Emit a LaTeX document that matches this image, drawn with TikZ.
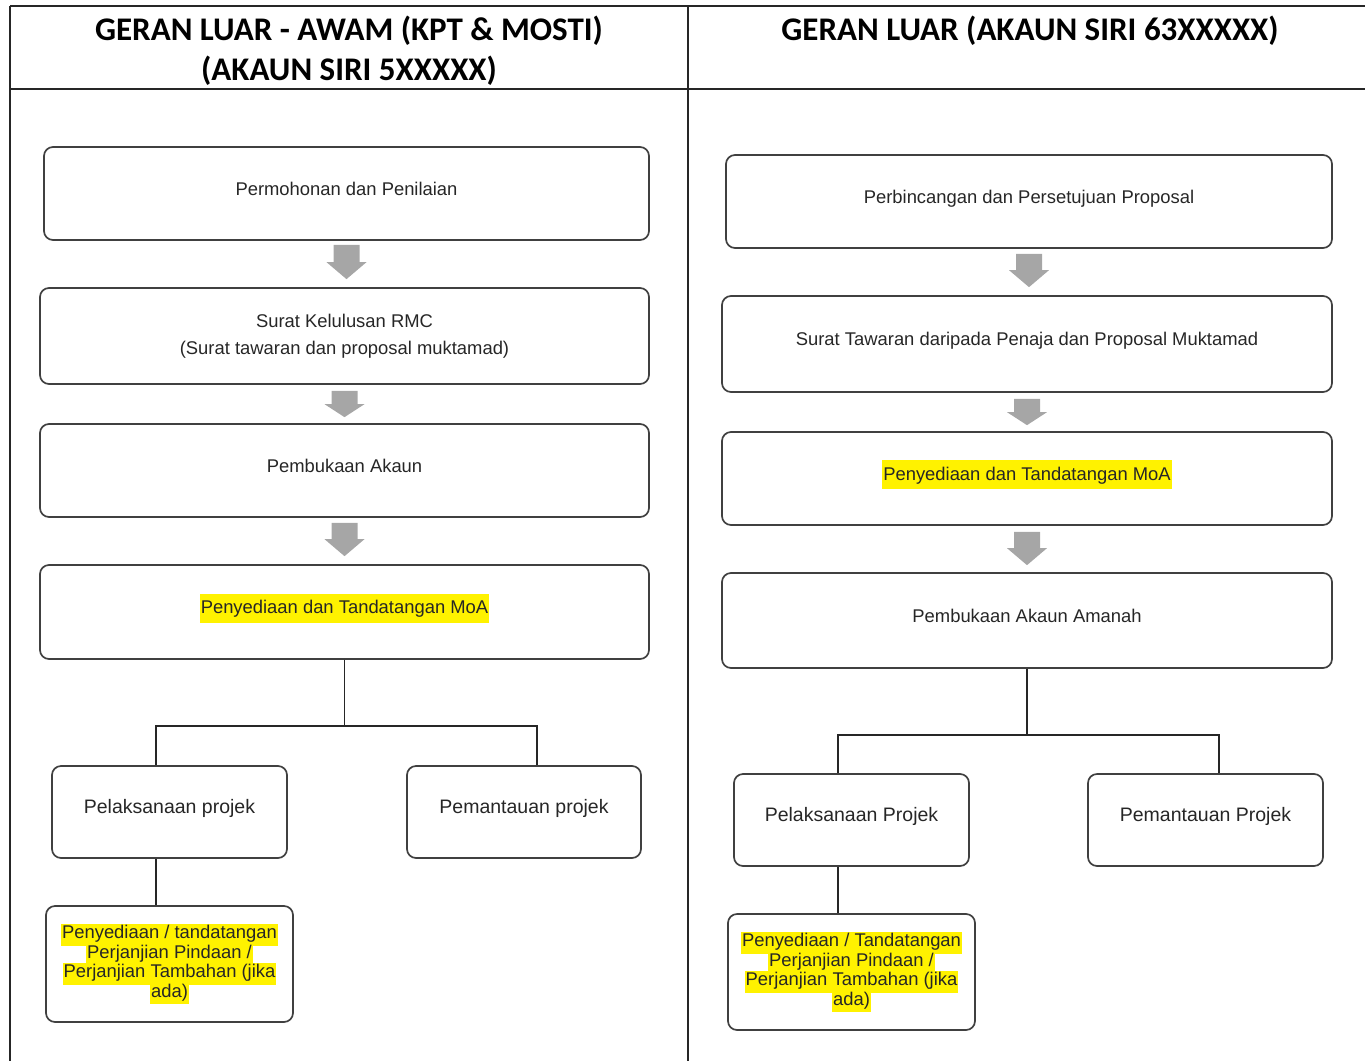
\documentclass[tikz,border=0pt]{standalone}
\usepackage{fontspec}
\setmainfont{Liberation Sans}
\newfontfamily\hdfont{Carlito}
\usetikzlibrary{calc}
\definecolor{arrowgray}{HTML}{A6A6A6}
\lineskiplimit=-30pt
\newcommand\hlt[1]{{\setlength{\fboxsep}{1pt}\colorbox{yellow}{\strut #1}}}
\newcommand\blockarrow[5]{%
  \fill[arrowgray] let \p1=(#1.south), \p2=(#2.north) in
   (\x1-13pt,\y1-#3) -- (\x1+13pt,\y1-#3) -- (\x1+13pt,\y2+#4+#5) -- (\x1+20pt,\y2+#4+#5)
   -- (\x1,\y2+#4) -- (\x1-20pt,\y2+#4+#5) -- (\x1-13pt,\y2+#4+#5) -- cycle;}
\begin{document}
\begin{tikzpicture}[x=1pt,y=-1pt,
  box/.style={draw=black!75, line width=1.7pt, rounded corners=9pt, inner sep=0pt,
    align=center, text=black!85, font=\fontsize{18.4}{27}\selectfont},
  sbox/.style={box, text height=11pt, text depth=8pt},
  hbox/.style={box, font=\fontsize{18.4}{19.5}\selectfont},
  pbox/.style={sbox, font=\fontsize{19.5}{24}\selectfont},
  conn/.style={draw=black!85, line width=1.5pt},
  grid/.style={draw=black!85, line width=1.8pt},
  head/.style={font=\hdfont\bfseries\fontsize{33}{40}\selectfont, align=center, inner sep=0pt}]
\useasboundingbox (0,0) rectangle (1365,1061);
% table
\coordinate (tl) at (10,6);
\coordinate (tr) at (1365,6);
\coordinate (hl) at (10,89);
\coordinate (hr) at (1365,89);
\coordinate (bl) at (10,1061);
\coordinate (mt) at (688,6);
\coordinate (mb) at (688,1061);
\draw[grid] (tl) -- (tr);
\draw[grid] (hl) -- (hr);
\draw[grid] (tl) -- (bl);
\draw[grid] (mt) -- (mb);
\node[head] (hL) at (349,51) {GERAN LUAR - AWAM (KPT \& MOSTI)\\(AKAUN SIRI 5XXXXX)};
\node[head] (hR) at (1030,31) {GERAN LUAR (AKAUN SIRI 63XXXXX)};
% left column
\node[sbox, minimum width=605, minimum height=93] (l1) at (346.5,193.5) {Permohonan dan Penilaian};
\node[box, minimum width=609, minimum height=96] (l2) at (344.5,336) {Surat Kelulusan RMC\\(Surat tawaran dan proposal muktamad)};
\node[sbox, minimum width=609, minimum height=93] (l3) at (344.5,470.5) {Pembukaan Akaun};
\node[sbox, minimum width=609, minimum height=94] (l4) at (344.5,612) {\hlt{Penyediaan dan Tandatangan MoA}};
\node[pbox, minimum width=235, minimum height=92] (l5) at (169.5,812) {Pelaksanaan projek};
\node[pbox, minimum width=234, minimum height=92] (l6) at (524,812) {Pemantauan projek};
\node[hbox, minimum width=247, minimum height=116] (l7) at (169.5,964) {\hlt{Penyediaan / tandatangan}\\\hlt{Perjanjian Pindaan /}\\\hlt{Perjanjian Tambahan (jika}\\\hlt{ada)}};
\blockarrow{l1}{l2}{4pt}{8pt}{17pt}
\blockarrow{l2}{l3}{6pt}{6pt}{13pt}
\blockarrow{l3}{l4}{5pt}{8pt}{17pt}
\coordinate (jl1) at (156,726);
\coordinate (jl2) at (537,726);
\draw[conn] (l4.south) |- (jl1) -- (jl1 |- l5.north);
\draw[conn] (l4.south) |- (jl2) -- (jl2 |- l6.north);
\draw[conn] (jl1 |- l5.south) -- (jl1 |- l7.north);
% right column
\node[sbox, minimum width=606, minimum height=93] (r1) at (1029,201.5) {Perbincangan dan Persetujuan Proposal};
\node[sbox, minimum width=610, minimum height=96] (r2) at (1027,344) {Surat Tawaran daripada Penaja dan Proposal Muktamad};
\node[sbox, minimum width=610, minimum height=93] (r3) at (1027,478.5) {\hlt{Penyediaan dan Tandatangan MoA}};
\node[sbox, minimum width=610, minimum height=95] (r4) at (1027,620.5) {Pembukaan Akaun Amanah};
\node[pbox, minimum width=235, minimum height=92] (r5) at (851.5,820) {Pelaksanaan Projek};
\node[pbox, minimum width=235, minimum height=92] (r6) at (1205.5,820) {Pemantauan Projek};
\node[hbox, minimum width=247, minimum height=116] (r7) at (851.5,972) {\hlt{Penyediaan / Tandatangan}\\\hlt{Perjanjian Pindaan /}\\\hlt{Perjanjian Tambahan (jika}\\\hlt{ada)}};
\blockarrow{r1}{r2}{5pt}{8pt}{17pt}
\blockarrow{r2}{r3}{6pt}{6pt}{13pt}
\blockarrow{r3}{r4}{6pt}{7pt}{17pt}
\coordinate (jr1) at (838,735);
\coordinate (jr2) at (1219,735);
\draw[conn] (r4.south) |- (jr1) -- (jr1 |- r5.north);
\draw[conn] (r4.south) |- (jr2) -- (jr2 |- r6.north);
\draw[conn] (jr1 |- r5.south) -- (jr1 |- r7.north);
\end{tikzpicture}
\end{document}
